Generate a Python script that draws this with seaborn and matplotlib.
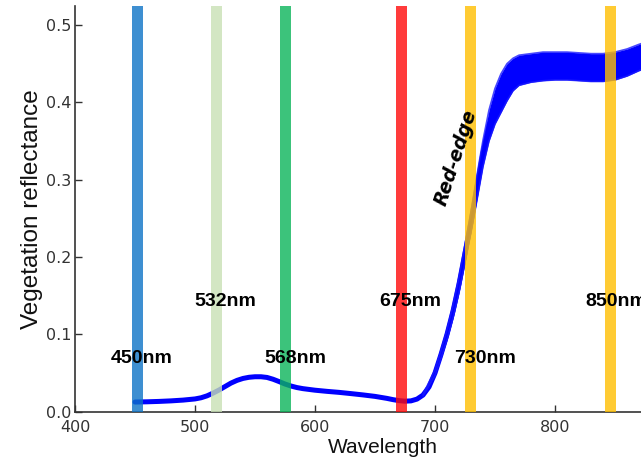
import numpy as np
import pandas as pd
import seaborn as sns
import matplotlib
matplotlib.use("Agg")
import matplotlib.pyplot as plt

# ---------------- data ----------------
wavelength = [450, 460, 470, 480, 490, 500, 505, 510, 515, 520, 525, 530, 535,
              540, 545, 550, 555, 560, 565, 570, 575, 580, 585, 590, 600, 610,
              620, 630, 640, 650, 660, 665, 670, 675, 680, 685, 690, 695, 700,
              705, 710, 715, 720, 725, 730, 735, 740, 745, 750, 755, 760, 765,
              770, 780, 790, 800, 810, 820, 830, 840, 850, 860, 870, 880, 890, 900]

refl_mid = [0.0125, 0.0128, 0.0133, 0.0140, 0.0150, 0.0165, 0.0180, 0.0205,
            0.0240, 0.0280, 0.0325, 0.0370, 0.0405, 0.0430, 0.0445, 0.0452,
            0.0452, 0.0443, 0.0420, 0.0390, 0.0358, 0.0332, 0.0312, 0.0298,
            0.0278, 0.0263, 0.0250, 0.0234, 0.0217, 0.0198, 0.0172, 0.0156,
            0.0143, 0.0136, 0.0140, 0.0163, 0.0215, 0.0320, 0.0500, 0.0740,
            0.1000, 0.1300, 0.1650, 0.2050, 0.2450, 0.2900, 0.3350, 0.3700,
            0.3950, 0.4120, 0.4260, 0.4350, 0.4420, 0.4450, 0.4470, 0.4470,
            0.4470, 0.4460, 0.4450, 0.4450, 0.4470, 0.4520, 0.4580, 0.4630,
            0.4680, 0.4720]

wavelength_nir = [690, 700, 705, 710, 715, 720, 725, 730, 735, 740, 745, 750,
                  755, 760, 765, 770, 780, 790, 800, 810, 820, 830, 840, 850,
                  860, 870, 880, 890, 900]

refl_upper = [0.0225, 0.0540, 0.0790, 0.1060, 0.1375, 0.1740, 0.2160, 0.2590,
              0.3060, 0.3510, 0.3900, 0.4180, 0.4370, 0.4500, 0.4570, 0.4610,
              0.4630, 0.4650, 0.4650, 0.4650, 0.4640, 0.4630, 0.4630, 0.4650,
              0.4690, 0.4750, 0.4800, 0.4850, 0.4890]

refl_lower = [0.0205, 0.0470, 0.0690, 0.0930, 0.1210, 0.1540, 0.1930, 0.2320,
              0.2740, 0.3170, 0.3500, 0.3720, 0.3870, 0.4020, 0.4150, 0.4220,
              0.4260, 0.4280, 0.4290, 0.4290, 0.4280, 0.4270, 0.4270, 0.4290,
              0.4340, 0.4410, 0.4460, 0.4500, 0.4540]

band_centers = [452, 518, 575.5, 671.8, 729.3, 846]
band_colors = ["#0d73c6", "#c8e0b5", "#0bb55a", "#ff0a0a", "#ffbf00", "#ffbf00"]
band_labels = ["450nm", "532nm", "568nm", "675nm", "730nm", "850nm"]
label_x = [455.8, 525.6, 583.3, 679.0, 741.7, 851.0]
label_y = [0.0694, 0.142, 0.0694, 0.142, 0.0694, 0.142]

x_ticks = [400, 500, 600, 700, 800]
y_ticks = [0.0, 0.1, 0.2, 0.3, 0.4, 0.5]

# ---------------- plot ----------------
sns.set_style("ticks")
plt.rcParams['font.family'] = ['DejaVu Sans']

fig = plt.figure(figsize=(6.41, 4.63), dpi=100)
ax = fig.add_axes([75 / 641, (463 - 411.7) / 463, 600 / 641, (411.7 - 6) / 463])

df = pd.DataFrame({"wl": wavelength, "mid": refl_mid})
dn = pd.DataFrame({"wl": wavelength_nir, "up": refl_upper, "lo": refl_lower})

ax.fill_between(dn["wl"], dn["lo"], dn["up"], color="#0000ff", alpha=1.0,
                lw=0, zorder=2)
sns.lineplot(data=df, x="wl", y="mid", ax=ax, color="#0000ff", lw=3.6,
             zorder=3)
for col in ["up", "lo"]:
    sns.lineplot(data=dn, x="wl", y=col, ax=ax, color="#1a1aff", lw=1.2,
                 alpha=0.8, zorder=3)

half_w = 4.7
for c, colr in zip(band_centers, band_colors):
    ax.axvspan(c - half_w, c + half_w, color=colr, alpha=0.8, lw=0, zorder=4)

for t, x, y in zip(band_labels, label_x, label_y):
    ax.text(x, y, t, ha="center", va="center", fontsize=14, fontweight="bold",
            family=["Liberation Sans", "DejaVu Sans"], color="black", zorder=6)

ax.text(717.5, 0.328, "Red-edge", rotation=72, ha="center", va="center",
        fontsize=13.5, fontweight="bold", fontstyle="oblique",
        family=["DejaVu Sans"], color="black", zorder=6)

ax.set_xlim(400, 900)
ax.set_ylim(0, 0.5246)
ax.set_xticks(x_ticks)
ax.set_yticks(y_ticks)
ax.set_xticklabels([str(v) for v in x_ticks])
ax.set_yticklabels([f"{v:.1f}" for v in y_ticks])

ax.tick_params(direction="in", length=5, width=1, color="#333333",
               labelcolor="#333333", labelsize=11.5)
ax.tick_params(axis="x", pad=6)
ax.tick_params(axis="y", pad=2.5)

for s in ["top", "right"]:
    ax.spines[s].set_visible(False)
for s in ["left", "bottom"]:
    ax.spines[s].set_color("#333333")
    ax.spines[s].set_linewidth(1.2)

ax.set_xlabel("Wavelength", fontsize=15, family=["Liberation Sans"],
              color="#111111", labelpad=2)
ax.set_ylabel("Vegetation reflectance", fontsize=17.5,
              family=["Liberation Sans"], color="#111111", labelpad=2)
ax.xaxis.label.set_position(((383 - 75) / 600, 0))

fig.savefig("out.png", dpi=100)
